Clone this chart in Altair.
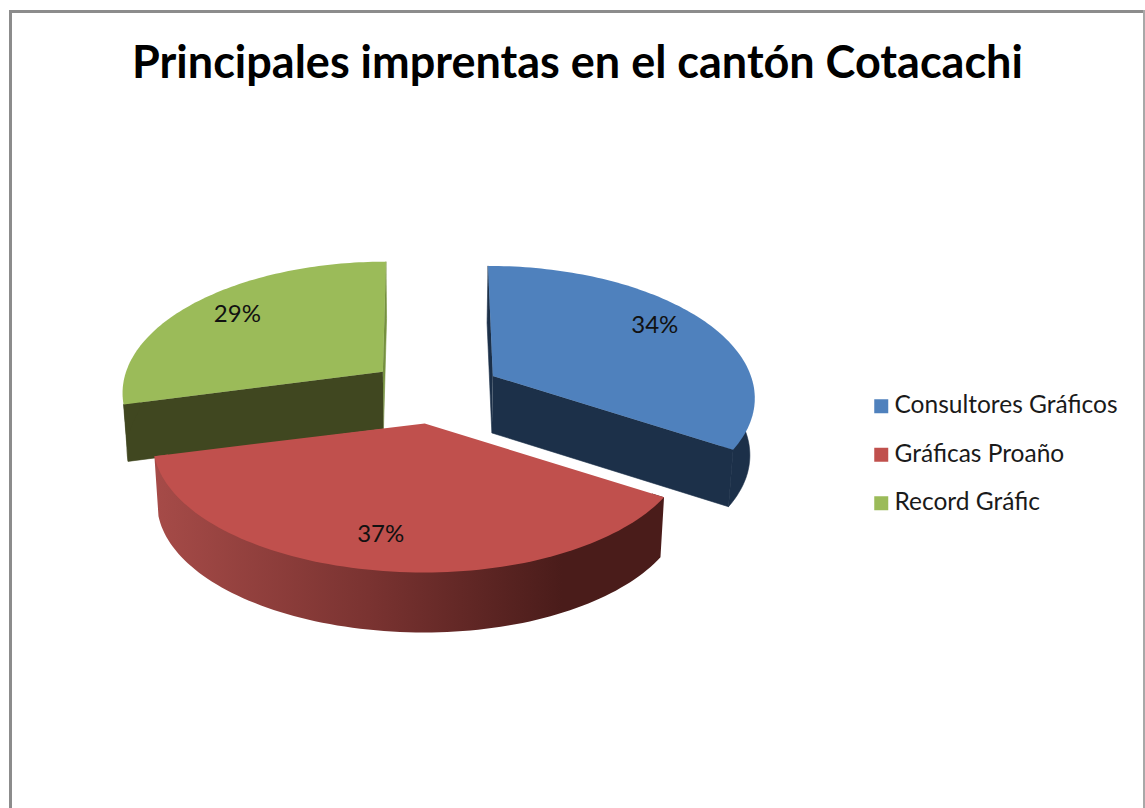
import math
import altair as alt
import pandas as pd

# Chart content
title_text = "Principales imprentas en el cantón Cotacachi"
categories = ["Consultores Gráficos", "Gráficas Proaño", "Record Gráfic"]
shares = [34, 37, 29]
top_colors = ["#4F81BD", "#C0504D", "#9BBB59"]
wall_colors = ["#1C3049", "#4A1C1A", "#404720"]
back_edge_colors = ["#1C3049", "#4A1C1A", "#75913F"]

# Geometry of the tilted, exploded pie, in canvas pixels
WIDTH, HEIGHT = 1145, 808
CENTER_X, CENTER_Y = 435.0, 391.5
RADIUS = 262.0
DEPTH_SCALE = 126.6
PERSPECTIVE = 0.1506
EXPLODE = 66.0
EXPLODE_Y = 0.49
VANISH_X = 426.0
VANISH_H = 1521.0
BOTTOM_SHRINK = 0.985
THICKNESS = [57.0, 60.0, 57.0]
# Horizontal trim of each slice: left half, right half
WIDTH_TRIM = [(1.0, 0.985), (1.025, 0.995), (0.98, 1.0)]
# Percent labels: shift away from the computed anchor
LABEL_SHIFT = [(9, -8), (-10, 11), (-10, -4)]


def apex_of(mid):
    return (
        CENTER_X + EXPLODE * math.sin(mid),
        CENTER_Y - EXPLODE * EXPLODE_Y * math.cos(mid),
    )


def project(apex, theta, trim=(1.0, 1.0), frac=1.0):
    """Disc point at a clockwise angle from 12 o'clock, seen in perspective."""
    v = -math.cos(theta) * frac
    s = 1 / (1 - PERSPECTIVE * v)
    dy = DEPTH_SCALE * v * s
    side = trim[1] if math.sin(theta) >= 0 else trim[0]
    dx = RADIUS * side * math.sin(theta) * frac * s
    dx += (apex[0] - VANISH_X) / VANISH_H * dy
    return apex[0] + dx, apex[1] + dy


def lower(pt, thickness):
    return VANISH_X + (pt[0] - VANISH_X) * BOTTOM_SHRINK, pt[1] + thickness


def arc(apex, a0, a1, trim, steps=90):
    return [project(apex, a0 + (a1 - a0) * i / steps, trim) for i in range(steps + 1)]


def frame(points, name):
    return pd.DataFrame(
        {
            "px": [p[0] for p in points],
            "py": [p[1] for p in points],
            "seq": range(len(points)),
            "name": name,
        }
    )


x_scale = alt.Scale(domain=[0, WIDTH], range=[0, WIDTH])
y_scale = alt.Scale(domain=[HEIGHT, 0], range=[HEIGHT, 0])
x_enc = alt.X("px:Q", scale=x_scale, axis=None)
y_enc = alt.Y("py:Q", scale=y_scale, axis=None)
order_enc = alt.Order("seq:Q")


def solid(points, fill, edge=0.6):
    return (
        alt.Chart(frame(points, "part"))
        .mark_line(fill=fill, stroke=fill, strokeWidth=edge, interpolate="linear")
        .encode(x=x_enc, y=y_enc, order=order_enc)
    )


legend = alt.Legend(
    title=None,
    orient="none",
    legendX=869,
    legendY=394,
    symbolType="square",
    symbolSize=196,
    symbolStrokeWidth=0,
    labelFont="Lato",
    labelFontSize=24.5,
    labelColor="#1a1a1a",
    labelLimit=300,
    labelOffset=1,
    rowPadding=23.5,
    padding=0,
)
fill_enc = alt.Fill(
    "name:N",
    scale=alt.Scale(domain=categories, range=top_colors),
    legend=legend,
    sort=None,
)

# Slice angles follow directly from the shares
total = sum(shares)
angles = []
running = 0.0
for share in shares:
    start = running
    running += share / total * 2 * math.pi
    angles.append((start, running))

rim_gradient = alt.Gradient(
    gradient="linear",
    x1=0, x2=1, y1=0, y2=0,
    stops=[
        alt.GradientStop(color="#A64B48", offset=0),
        alt.GradientStop(color="#7A3331", offset=0.42),
        alt.GradientStop(color="#4A1C1A", offset=0.8),
        alt.GradientStop(color="#4A1C1A", offset=1),
    ],
)

# Only the front of the disc shows its rim
RIM_FROM, RIM_TO = math.pi / 2 - 0.14, 3 * math.pi / 2 + 0.14
# The rim's upper edge runs a little under the top face so no dark fringe shows
RIM_INSET = 0.05

# Which radial cut faces are drawn, back one first
cut_faces = {0: [0, -1], 1: [], 2: [-1, 0]}

layers = []
label_rows = []
# Farther slices first so the front slice sits on top
for idx in (2, 0, 1):
    a0, a1 = angles[idx]
    mid = (a0 + a1) / 2
    apex = apex_of(mid)
    trim = WIDTH_TRIM[idx]
    depth = THICKNESS[idx]
    outer = arc(apex, a0, a1, trim)
    lower_apex = lower(apex, depth)

    for pos, which in enumerate(cut_faces[idx]):
        end = outer[which]
        color = wall_colors[idx] if pos == len(cut_faces[idx]) - 1 else back_edge_colors[idx]
        layers.append(solid([apex, end, lower(end, depth), lower_apex], color))

    # Outer rim, with a shaded band on the front slice
    front = arc(apex, max(a0, RIM_FROM), min(a1, RIM_TO), trim)
    bottom = [lower(p, depth) for p in front]
    inset = [
        (p[0] + (apex[0] - p[0]) * RIM_INSET, p[1] + (apex[1] - p[1]) * RIM_INSET)
        for p in front
    ]
    lead = [front[0]] if a0 >= RIM_FROM else []
    tail = [front[-1]] if a1 <= RIM_TO else []
    rim = lead + inset + tail + bottom[::-1]
    if idx == 1:
        layers.append(
            alt.Chart(frame(rim, "rim"))
            .mark_line(fill=rim_gradient, strokeWidth=0)
            .encode(x=x_enc, y=y_enc, order=order_enc)
        )
    else:
        layers.append(solid(rim, wall_colors[idx]))

    # Top face, which also feeds the legend
    layers.append(
        alt.Chart(frame([apex] + outer, categories[idx]))
        .mark_line(strokeWidth=0)
        .encode(x=x_enc, y=y_enc, order=order_enc, fill=fill_enc)
    )

    lx, ly = project(apex, mid, trim, 0.72)
    label_rows.append(
        {"px": lx + LABEL_SHIFT[idx][0], "py": ly + LABEL_SHIFT[idx][1], "label": f"{shares[idx]}%"}
    )

labels = (
    alt.Chart(pd.DataFrame(label_rows))
    .mark_text(font="Lato", fontSize=24, color="#111111", align="center", baseline="middle")
    .encode(x=x_enc, y=y_enc, text="label:N")
)

# Frame around the chart area
border_left = alt.Chart(pd.DataFrame({"px": [10.5]})).mark_rule(color="#8C8C8C", strokeWidth=3).encode(
    x=x_enc, y=alt.value(10), y2=alt.value(HEIGHT)
)
border_top = alt.Chart(pd.DataFrame({"py": [11.5]})).mark_rule(color="#8C8C8C", strokeWidth=3).encode(
    y=y_enc, x=alt.value(9), x2=alt.value(WIDTH)
)
border_right = alt.Chart(pd.DataFrame({"px": [1144]})).mark_rule(color="#A8A8A8", strokeWidth=2).encode(
    x=x_enc, y=alt.value(10), y2=alt.value(HEIGHT)
)

chart = (
    alt.layer(*layers, labels, border_left, border_top, border_right)
    .properties(
        width=WIDTH,
        height=HEIGHT,
        padding=0,
        autosize=alt.AutoSizeParams(type="none"),
        background="white",
        title=alt.TitleParams(
            text=title_text,
            font="Lato",
            fontSize=45,
            fontWeight="bold",
            color="#000000",
            anchor="middle",
            offset=-87,
            dx=5,
        ),
    )
    .configure_view(stroke=None)
)

chart.save("out.html", embed_options={"renderer": "svg", "actions": False})
